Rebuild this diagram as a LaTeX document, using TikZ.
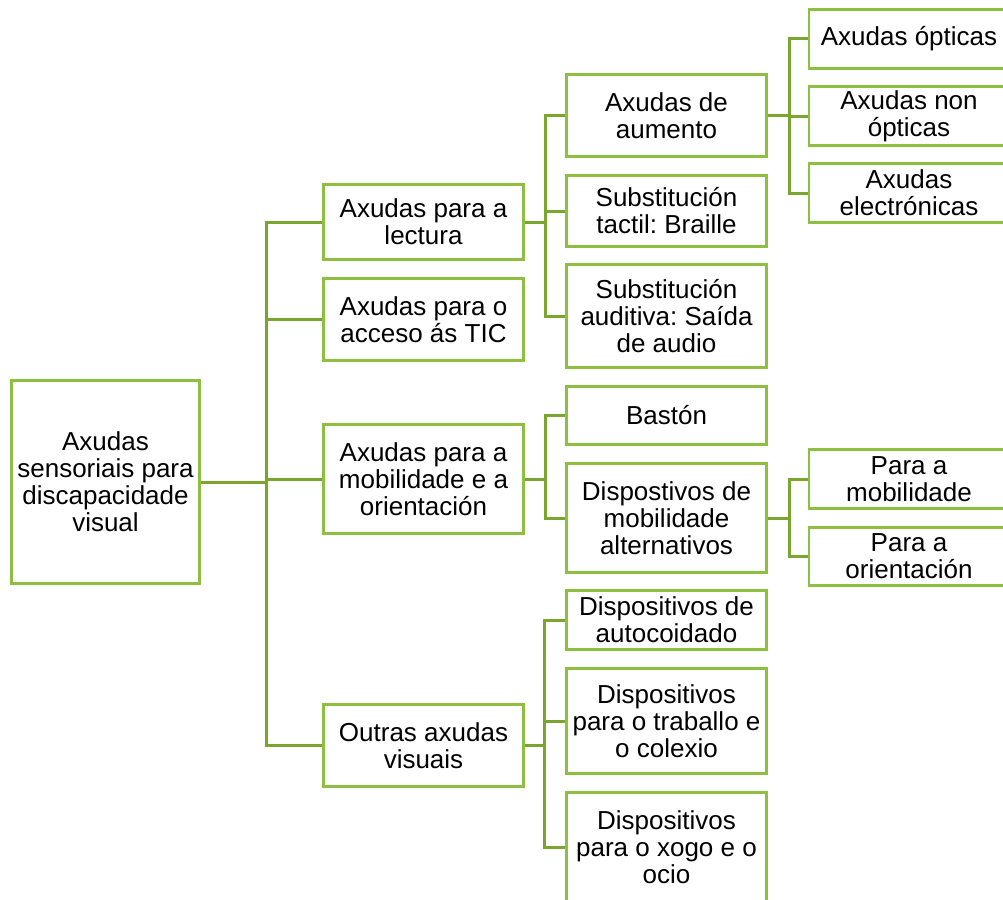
\documentclass[tikz,border=0pt]{standalone}
\usepackage{fontspec}
\setmainfont{Liberation Sans}
\usepackage{tikz}
\usetikzlibrary{positioning, calc}
\definecolor{boxgreen}{RGB}{141,192,64}
\definecolor{linegreen}{RGB}{122,166,48}
\frenchspacing

\tikzset{
  caixa/.style={draw=boxgreen, line width=2.6pt, fill=white, inner sep=0pt,
    align=center, font=\fontsize{26}{27}\selectfont, text=black},
  nivel1/.style={caixa, minimum width=200pt},
  nivel2/.style={caixa, minimum width=200pt},
  nivel3/.style={caixa, minimum width=200pt},
  ramo/.style={draw=linegreen, line width=3pt}
}

\begin{document}
\begin{tikzpicture}[x=1pt,y=-1pt]

            \useasboundingbox (0,0) rectangle (1003,899);
            \clip (0,0) rectangle (1003,899);

            % Raíz
            \node[caixa, minimum width=188pt, minimum height=203pt] (raiz) at (105.5,482) {Axudas\\sensoriais para\\discapacidade\\visual};

            % Primeiro nivel
            \node[nivel1, minimum height=75pt] (lectura) at (423.5,222) {Axudas para a\\lectura};
            \node[nivel1, minimum height=82pt] (tic) at (423.5,319.5) {Axudas para o\\acceso ás TIC};
            \node[nivel1, minimum height=109pt] (mobil) at (423.5,479) {Axudas para a\\mobilidade e a\\orientación};
            \node[nivel1, minimum height=82pt] (outras) at (423.5,745.5) {Outras axudas\\visuais};

            % Segundo nivel
            \node[nivel2, minimum height=82pt] (aumento) at (666.5,115.5) {Axudas de\\aumento};
            \node[nivel2, minimum height=71pt] (tactil) at (666.5,211) {Substitución\\tactil: Braille};
            \node[nivel2, minimum height=103pt] (auditiva) at (666.5,316) {Substitución\\auditiva: Saída\\de audio};
            \node[nivel2, minimum height=58pt] (baston) at (666.5,415.5) {Bastón};
            \node[nivel2, minimum height=109pt] (alternat) at (666.5,518) {Dispostivos de\\mobilidade\\alternativos};
            \node[nivel2, minimum height=59pt] (autocoid) at (666.5,620) {Dispositivos de\\autocoidado};
            \node[nivel2, minimum height=105pt] (traballo) at (666.5,721) {Dispositivos\\para o traballo e\\o colexio};
            \node[nivel2, minimum height=109pt] (xogo) at (666.5,847) {Dispositivos\\para o xogo e o\\ocio};

            % Terceiro nivel
            \node[nivel3, minimum height=59pt] (opticas) at (909,39) {Axudas ópticas};
            \node[nivel3, minimum height=59pt] (nonopticas) at (909,116) {Axudas non\\ópticas};
            \node[nivel3, minimum height=59pt] (electronicas) at (909,193) {Axudas\\electrónicas};
            \node[nivel3, minimum height=59pt] (paramobil) at (909,479) {Para a\\mobilidade};
            \node[nivel3, minimum height=58pt] (paraorient) at (909,556.5) {Para a\\orientación};

            % Conexións da raíz
            \foreach \f in {lectura, tic, mobil, outras}
              \draw[ramo] (raiz.east) -- ++(66,0) |- (\f.west);

            % Conexións do segundo nivel
            \foreach \f in {aumento, tactil, auditiva}
              \draw[ramo] (lectura.east) -- ++(21,0) |- (\f.west);
            \foreach \f in {baston, alternat}
              \draw[ramo] (mobil.east) -- ++(21,0) |- (\f.west);
            \foreach \f in {autocoid, traballo, xogo}
              \draw[ramo] (outras.east) -- ++(20,0) |- (\f.west);

            % Conexións do terceiro nivel
            \foreach \f in {opticas, nonopticas, electronicas}
              \draw[ramo] (aumento.east) -- ++(21.5,0) |- (\f.west);
            \foreach \f in {paramobil, paraorient}
              \draw[ramo] (alternat.east) -- ++(21.5,0) |- (\f.west);

\end{tikzpicture}
\end{document}
